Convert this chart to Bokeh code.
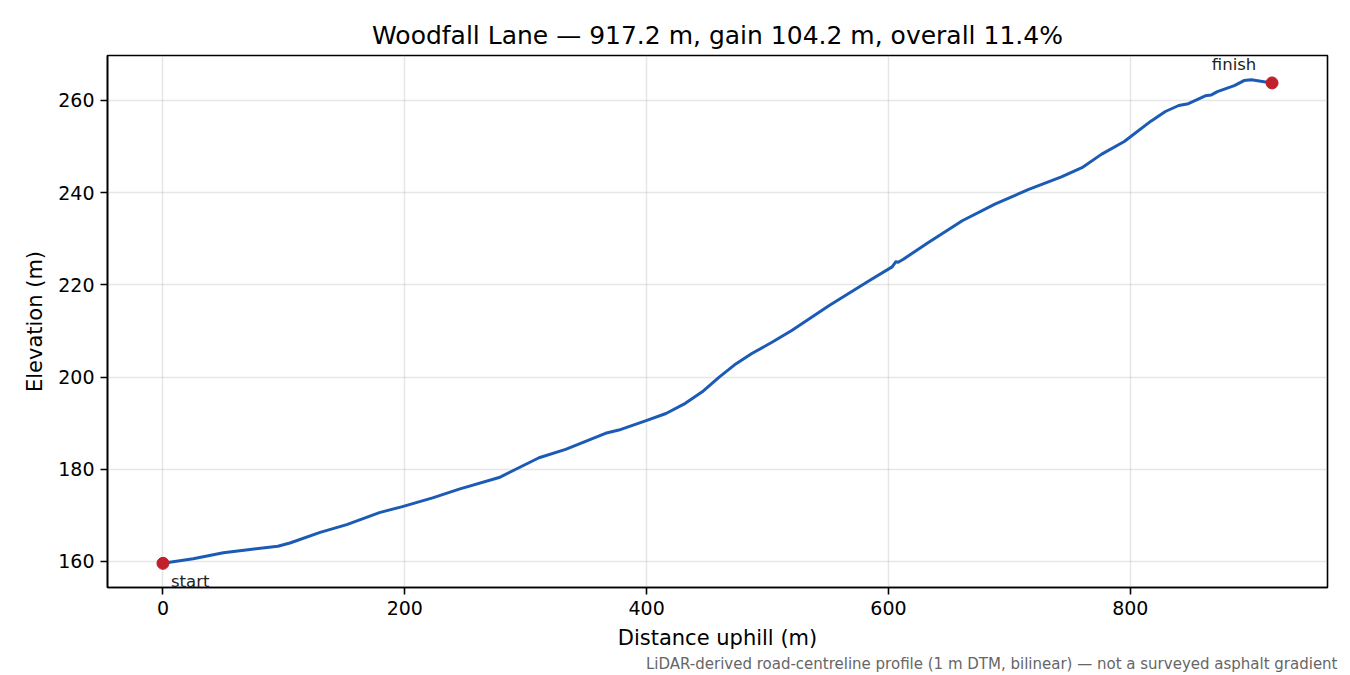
import numpy as np
from bokeh.plotting import figure
from bokeh.models import Range1d, Label, Title, FixedTicker
from bokeh.embed import file_html
from bokeh.resources import INLINE

# profile (distance uphill in m, elevation in m)
dist = [0, 25, 50, 72, 95, 105, 130, 152, 179, 198, 223, 245, 278, 311, 333,
        366, 377, 399, 416, 432, 446, 460, 474, 487, 504, 520, 551, 584, 603,
        606, 608, 612, 633, 661, 688, 716, 743, 760, 776, 795, 817, 829, 840,
        848, 862, 867, 872, 886, 894, 900, 917.2]
elev = [159.6, 160.6, 161.9, 162.6, 163.3, 164.0, 166.3, 168.0, 170.6, 171.9,
        173.8, 175.7, 178.2, 182.5, 184.3, 187.8, 188.5, 190.5, 192.1, 194.3,
        196.8, 200.0, 202.9, 205.1, 207.6, 210.1, 215.5, 220.9, 223.9, 225.0,
        224.9, 225.5, 229.2, 233.9, 237.5, 240.7, 243.4, 245.4, 248.3, 251.1,
        255.5, 257.6, 258.9, 259.3, 261.0, 261.2, 261.9, 263.2, 264.3, 264.5,
        263.8]

x_ticks = [0, 200, 400, 600, 800]
y_ticks = [160, 180, 200, 220, 240, 260]

title_text = "Woodfall Lane \u2014 917.2 m, gain 104.2 m, overall 11.4%"
note_text = ("LiDAR-derived road-centreline profile (1 m DTM, bilinear) "
             "\u2014 not a surveyed asphalt gradient")

FONT = "DejaVu Sans"

length = dist[-1] - dist[0]
gain = max(elev) - min(elev)
x_pad = 0.05 * length
y_pad = 0.05 * gain

p = figure(width=1350, height=675,
           output_backend="svg",
           toolbar_location=None,
           x_range=Range1d(dist[0] - x_pad, dist[-1] + x_pad),
           y_range=Range1d(min(elev) - y_pad, max(elev) + y_pad),
           min_border_left=107, min_border_right=23,
           min_border_top=55, min_border_bottom=88,
           x_axis_label="Distance uphill (m)",
           y_axis_label="Elevation (m)")

p.title.text = title_text
p.title.align = "center"
p.title.text_font = FONT
p.title.text_font_size = "25px"
p.title.text_font_style = "normal"
p.title.text_color = "black"
p.title.standoff = 12

p.add_layout(Title(text=note_text, align="right", offset=-10,
                   text_font=FONT, text_font_size="15px",
                   text_font_style="normal", text_color="#666666",
                   standoff=0), "below")

p.outline_line_color = "black"
p.outline_line_width = 1.6
p.background_fill_color = "white"
p.border_fill_color = "white"

for ax in (p.xaxis, p.yaxis):
    ax.axis_line_color = "black"
    ax.axis_line_width = 1.6
    ax.major_tick_out = 7
    ax.major_tick_in = 0
    ax.major_tick_line_width = 1.6
    ax.minor_tick_line_color = None
    ax.major_label_text_font = FONT
    ax.major_label_text_font_size = "19px"
    ax.major_label_text_color = "black"
    ax.major_label_standoff = 6
    ax.axis_label_text_font = FONT
    ax.axis_label_text_font_size = "21px"
    ax.axis_label_text_font_style = "normal"
    ax.axis_label_text_color = "black"
    ax.axis_label_standoff = 8

p.xaxis.ticker = FixedTicker(ticks=x_ticks)
p.yaxis.ticker = FixedTicker(ticks=y_ticks)

p.grid.grid_line_color = "#b0b0b0"
p.grid.grid_line_alpha = 0.32
p.grid.grid_line_width = 1.5

p.line(dist, elev, line_color="#1c5bb5", line_width=3, line_join="round")
p.scatter([dist[0], dist[-1]], [elev[0], elev[-1]], size=12,
          fill_color="#c01f2b", line_color="#c01f2b")

p.add_layout(Label(x=dist[0], y=elev[0], x_offset=8, y_offset=-9,
                   text="start", text_baseline="top",
                   text_font=FONT, text_font_size="16.5px", text_color="#222222"))
p.add_layout(Label(x=dist[-1], y=elev[-1], x_offset=-38, y_offset=18,
                   text="finish", text_align="center",
                   text_baseline="alphabetic",
                   text_font=FONT, text_font_size="16.5px", text_color="#222222"))

open("out.html", "w").write(file_html(p, INLINE))
